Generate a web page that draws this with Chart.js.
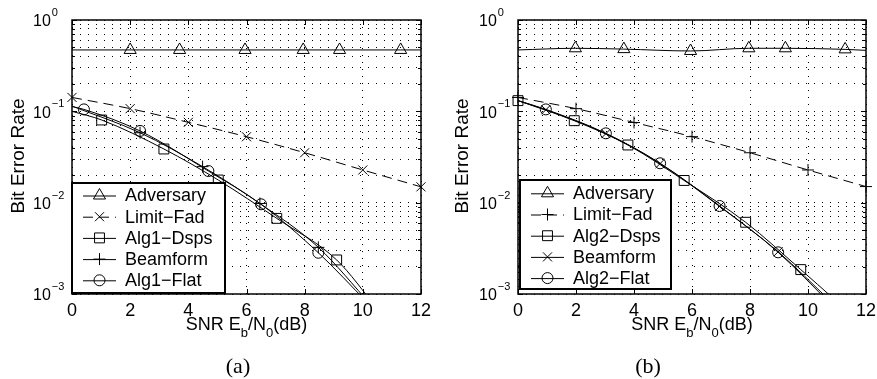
<!DOCTYPE html>
<html>
<head>
<meta charset="utf-8">
<script src="https://cdn.jsdelivr.net/npm/chart.js@4.4.1/dist/chart.umd.min.js"></script>
<style>
html, body { margin: 0; padding: 0; background: #fff; }
#wrap { position: relative; width: 877px; height: 379px; }
canvas { position: absolute; top: 0; }
#chartA { left: 0; }
#chartB { left: 438px; }
</style>
</head>
<body>
<div id="wrap">
  <canvas id="chartA" width="438" height="379"></canvas>
  <canvas id="chartB" width="439" height="379"></canvas>
</div>
<script>
// -------------------------------
// Data
// -------------------------------
const xTicks = [0, 2, 4, 6, 8, 10, 12];
const yDecades = [-3, -2, -1, 0];

// panel (a)
const advA_snr = [0, 2.0, 3.7, 5.95, 7.95, 9.2, 11.3, 12];
const advA_ber = [0.47, 0.47, 0.47, 0.47, 0.47, 0.47, 0.47, 0.47];
const advA_marks = [1, 2, 3, 4, 5, 6];

const limA_snr = [0, 2, 4, 6, 8, 10, 12];
const limA_ber = [0.142, 0.107, 0.0758, 0.0527, 0.0352, 0.0228, 0.0149];
const limA_marks = [0, 1, 2, 3, 4, 5, 6];

const dspsA_snr = [0, 1.02, 3.16, 5.03, 7.04, 9.1, 10.5];
const dspsA_ber = [0.1, 0.0804, 0.0387, 0.0177, 0.00673, 0.00236, 0.00069];
const dspsA_marks = [1, 2, 3, 4, 5];

const beamA_snr = [0, 2.34, 4.49, 6.46, 8.47, 10.3];
const beamA_ber = [0.114, 0.0583, 0.0248, 0.0098, 0.00324, 0.00075];
const beamA_marks = [1, 2, 3, 4];

const flatA_snr = [0, 0.41, 2.34, 4.69, 6.5, 8.47, 10.2];
const flatA_ber = [0.113, 0.105, 0.061, 0.0222, 0.0096, 0.00283, 0.00078];
const flatA_marks = [1, 2, 3, 4, 5];

// panel (b)
const advB_snr = [0, 1.98, 3.65, 5.95, 7.96, 9.22, 11.28, 12];
const advB_ber = [0.47, 0.49, 0.48, 0.458, 0.49, 0.49, 0.477, 0.465];
const advB_marks = [1, 2, 3, 4, 5, 6];

const limB_snr = [0, 2, 4, 6, 8, 10, 12];
const limB_ber = [0.142, 0.107, 0.0755, 0.0528, 0.0352, 0.0228, 0.015];
const limB_marks = [0, 1, 2, 3, 4, 5, 6];

const dspsB_snr = [0, 1.94, 3.79, 5.73, 7.85, 9.75, 10.9];
const dspsB_ber = [0.131, 0.079, 0.0428, 0.0175, 0.0061, 0.00185, 0.00088];
const dspsB_marks = [0, 1, 2, 3, 4, 5];

const beamB_snr = [0, 0.96, 3.03, 4.9, 6.95, 8.97, 10.8];
const beamB_ber = [0.131, 0.104, 0.057, 0.0268, 0.0091, 0.0029, 0.00082];
const beamB_marks = [1, 2, 3, 4, 5];

const flatB_snr = [0, 0.96, 3.03, 4.9, 6.95, 8.97, 10.8];
const flatB_ber = [0.131, 0.105, 0.0574, 0.027, 0.0092, 0.00286, 0.00077];
const flatB_marks = [1, 2, 3, 4, 5];

const labelsA = ['Adversary', 'Limit\u2212Fad', 'Alg1\u2212Dsps', 'Beamform', 'Alg1\u2212Flat'];
const labelsB = ['Adversary', 'Limit\u2212Fad', 'Alg2\u2212Dsps', 'Beamform', 'Alg2\u2212Flat'];

// -------------------------------
// Styling helpers
// -------------------------------
const SANS = '"Liberation Sans", Arial, sans-serif';
const SERIF = '"Liberation Serif", "Times New Roman", serif';
const markerRadius = { triangle: 7, crossRot: 6.4, rect: 7, cross: 6, circle: 5.5 };

function makeSeries(label, snr, ber, marks, marker, dashed) {
    return { label, snr, ber, marks, marker, dashed };
}

function toDatasets(list) {
    const out = [];
    list.forEach(s => {
        const pts = s.snr.map((x, i) => ({ x: x, y: s.ber[i] }));
        out.push({
            data: pts,
            borderColor: '#000',
            borderWidth: 1,
            borderDash: s.dashed ? [10, 6] : [],
            pointRadius: 0,
            cubicInterpolationMode: 'monotone',
            clip: 0
        });
        out.push({
            data: s.marks.map(i => pts[i]),
            showLine: false,
            pointStyle: s.marker,
            pointRadius: markerRadius[s.marker],
            pointBorderColor: '#000',
            pointBackgroundColor: 'rgba(0,0,0,0)',
            pointBorderWidth: 1,
            clip: false
        });
    });
    return out;
}

function minorTicks() {
    const v = [];
    for (let e = yDecades[0]; e < yDecades[yDecades.length - 1]; e++) {
        for (let m = 1; m < 10; m++) v.push(m * Math.pow(10, e));
    }
    v.push(Math.pow(10, yDecades[yDecades.length - 1]));
    return v;
}

function drawMarker(ctx, style, x, y) {
    ctx.strokeStyle = '#000';
    ctx.fillStyle = 'rgba(0,0,0,0)';
    ctx.lineWidth = 1;
    Chart.helpers.drawPoint(ctx, { pointStyle: style, radius: markerRadius[style], rotation: 0, borderWidth: 1 }, x, y);
}

// -------------------------------
// Frame, ticks, labels, legend
// -------------------------------
function figurePlugin(cfg) {
    return {
        id: 'figure',
        afterDatasetsDraw(chart) {
            const ctx = chart.ctx;
            const a = chart.chartArea;
            const xs = chart.scales.x, ys = chart.scales.y;
            ctx.save();
            ctx.strokeStyle = '#000';
            ctx.lineWidth = 1;
            // inner tick marks
            ctx.beginPath();
            xTicks.forEach(v => {
                const px = Math.round(xs.getPixelForValue(v)) + 0.5;
                ctx.moveTo(px, a.bottom); ctx.lineTo(px, a.bottom - 5);
                ctx.moveTo(px, a.top); ctx.lineTo(px, a.top + 5);
            });
            minorTicks().forEach(v => {
                const py = Math.round(ys.getPixelForValue(v)) + 0.5;
                const len = Math.abs(Math.log10(v) - Math.round(Math.log10(v))) < 1e-6 ? 5 : 3;
                ctx.moveTo(a.left, py); ctx.lineTo(a.left + len, py);
                ctx.moveTo(a.right, py); ctx.lineTo(a.right - len, py);
            });
            ctx.stroke();
            // box
            ctx.lineWidth = 1.5;
            ctx.strokeRect(a.left, a.top, a.right - a.left, a.bottom - a.top);
            ctx.restore();
        },
        afterDraw(chart) {
            const ctx = chart.ctx;
            const a = chart.chartArea;
            const xs = chart.scales.x, ys = chart.scales.y;
            ctx.save();
            ctx.fillStyle = '#000';

            // x tick labels
            ctx.font = '18px ' + SANS;
            ctx.textAlign = 'center';
            ctx.textBaseline = 'middle';
            xTicks.forEach(v => ctx.fillText(String(v), xs.getPixelForValue(v), a.bottom + 17));

            // y tick labels 10^e
            yDecades.forEach(e => {
                const py = ys.getPixelForValue(Math.pow(10, e));
                const tx = a.left - 39;
                ctx.textAlign = 'left';
                ctx.font = '16px ' + SANS;
                ctx.fillText('10', tx, py + 2);
                const w = ctx.measureText('10').width;
                ctx.font = '11px ' + SANS;
                ctx.fillText(e === 0 ? '0' : '\u2212' + (-e), tx + w + 1, py - 7);
            });

            // x title: SNR E_b/N_0(dB)
            const parts = [['SNR E', 0], ['b', 1], ['/N', 0], ['0', 1], ['(dB)', 0]];
            const mainF = '18px ' + SANS, subF = '13px ' + SANS;
            let total = 0;
            parts.forEach(p => { ctx.font = p[1] ? subF : mainF; total += ctx.measureText(p[0]).width; });
            let cx = (a.left + a.right) / 2 - total / 2;
            const ty = a.bottom + 31;
            ctx.textAlign = 'left';
            parts.forEach(p => {
                ctx.font = p[1] ? subF : mainF;
                ctx.fillText(p[0], cx, p[1] ? ty + 8 : ty);
                cx += ctx.measureText(p[0]).width;
            });

            // y title
            ctx.save();
            ctx.translate(cfg.yTitleX, (a.top + a.bottom) / 2 - 1);
            ctx.rotate(-Math.PI / 2);
            ctx.font = '19px ' + SANS;
            ctx.textAlign = 'center';
            ctx.fillText('Bit Error Rate', 0, 0);
            ctx.restore();

            // panel tag
            ctx.font = '22px ' + SERIF;
            ctx.textAlign = 'center';
            ctx.fillText(cfg.tag, cfg.tagX, 367);

            // legend
            const lg = cfg.legend;
            ctx.fillStyle = '#fff';
            ctx.fillRect(lg.left, lg.top, lg.width, lg.height);
            ctx.strokeStyle = '#000';
            ctx.lineWidth = 2;
            ctx.strokeRect(lg.left, lg.top, lg.width, lg.height);
            cfg.series.forEach((s, i) => {
                const y = lg.top + lg.firstRow + i * lg.rowStep;
                ctx.lineWidth = 1;
                ctx.setLineDash(s.dashed ? [10, 6] : []);
                ctx.beginPath();
                ctx.moveTo(lg.left + 11, y + 0.5);
                ctx.lineTo(lg.left + 44, y + 0.5);
                ctx.stroke();
                ctx.setLineDash([]);
                drawMarker(ctx, s.marker, lg.left + 27.5, y);
                ctx.fillStyle = '#000';
                ctx.font = '18px ' + SANS;
                ctx.textAlign = 'left';
                ctx.textBaseline = 'middle';
                ctx.fillText(s.label, lg.left + 53, y + 1);
            });
            ctx.restore();
        }
    };
}

// -------------------------------
// Chart factory
// -------------------------------
function makePanel(canvasId, series, cfg) {
    const ctx = document.getElementById(canvasId).getContext('2d');
    return new Chart(ctx, {
        type: 'line',
        data: { datasets: toDatasets(series) },
        options: {
            responsive: false,
            animation: false,
            events: [],
            layout: { padding: cfg.padding },
            plugins: { legend: { display: false }, tooltip: { enabled: false } },
            scales: {
                x: {
                    type: 'linear', min: 0, max: 12,
                    afterBuildTicks: s => { s.ticks = xTicks.map(v => ({ value: v })); },
                    ticks: { display: false },
                    grid: { color: '#000', lineWidth: 1, drawTicks: false },
                    border: { display: false, dash: [1, 6] }
                },
                y: {
                    type: 'logarithmic', min: 1e-3, max: 1,
                    afterBuildTicks: s => { s.ticks = minorTicks().map(v => ({ value: v })); },
                    ticks: { display: false },
                    grid: { color: '#000', lineWidth: 1, drawTicks: false },
                    border: { display: false, dash: [1, 7] }
                }
            }
        },
        plugins: [figurePlugin(Object.assign({ series }, cfg))]
    });
}

const seriesA = [
    makeSeries(labelsA[0], advA_snr, advA_ber, advA_marks, 'triangle', false),
    makeSeries(labelsA[1], limA_snr, limA_ber, limA_marks, 'crossRot', true),
    makeSeries(labelsA[2], dspsA_snr, dspsA_ber, dspsA_marks, 'rect', false),
    makeSeries(labelsA[3], beamA_snr, beamA_ber, beamA_marks, 'cross', false),
    makeSeries(labelsA[4], flatA_snr, flatA_ber, flatA_marks, 'circle', false)
];

const seriesB = [
    makeSeries(labelsB[0], advB_snr, advB_ber, advB_marks, 'triangle', false),
    makeSeries(labelsB[1], limB_snr, limB_ber, limB_marks, 'cross', true),
    makeSeries(labelsB[2], dspsB_snr, dspsB_ber, dspsB_marks, 'rect', false),
    makeSeries(labelsB[3], beamB_snr, beamB_ber, beamB_marks, 'crossRot', false),
    makeSeries(labelsB[4], flatB_snr, flatB_ber, flatB_marks, 'circle', false)
];

makePanel('chartA', seriesA, {
    padding: { left: 72, right: 17, top: 20, bottom: 85 },
    yTitleX: 19, tag: '(a)', tagX: 238,
    legend: { left: 72, top: 183, width: 153, height: 110, firstRow: 12.5, rowStep: 21.2 }
});

makePanel('chartB', seriesB, {
    padding: { left: 80, right: 11, top: 20, bottom: 85 },
    yTitleX: 25, tag: '(b)', tagX: 210,
    legend: { left: 82, top: 180, width: 151, height: 109, firstRow: 13.3, rowStep: 21.2 }
});
</script>
</body>
</html>
